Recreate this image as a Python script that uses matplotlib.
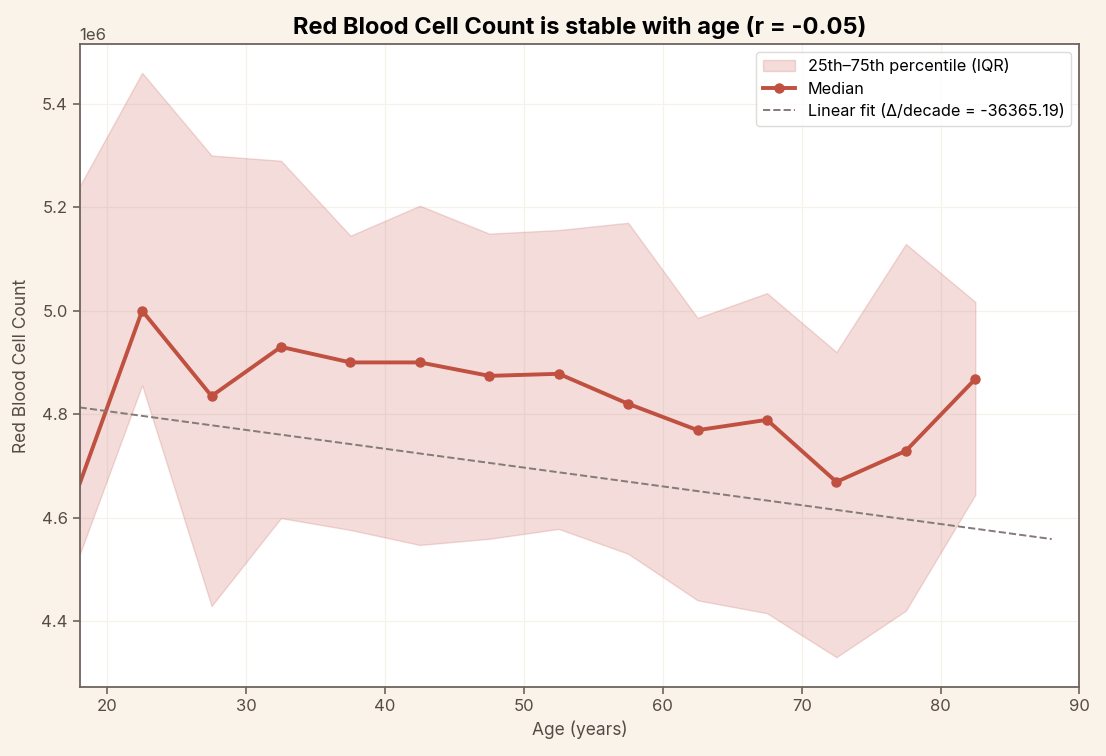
import numpy as np
import matplotlib
matplotlib.use("Agg")
import matplotlib.pyplot as plt

# age bin midpoints
age_mid = [17.5, 22.5, 27.5, 32.5, 37.5, 42.5, 47.5, 52.5, 57.5, 62.5, 67.5, 72.5, 77.5, 82.5]
# values in millions (scaled to 1e6 below)
rbc_median = [4.628, 5.00, 4.835, 4.93, 4.90, 4.90, 4.874, 4.878, 4.82, 4.769, 4.789, 4.669, 4.729, 4.868]
rbc_q75 = [5.216, 5.46, 5.30, 5.29, 5.145, 5.203, 5.149, 5.156, 5.17, 4.986, 5.034, 4.92, 5.129, 5.017]
rbc_q25 = [4.492, 4.856, 4.429, 4.599, 4.576, 4.547, 4.559, 4.578, 4.53, 4.44, 4.415, 4.33, 4.42, 4.644]

# linear fit on raw data
fit_age_range = [18, 88]
fit_slope_decade = -36365.19
fit_at_18 = 4.813e6
r_value = -0.05

plt.rcParams['font.family'] = ['Inter', 'DejaVu Sans']

bg = "#FAF3E9"
red = "#C0503F"
txt = "#564c47"

fig, ax = plt.subplots(figsize=(11.06, 7.56), dpi=100)
fig.patch.set_facecolor(bg)
ax.set_facecolor("white")

x = np.array(age_mid)
med = np.array(rbc_median) * 1e6
lo = np.array(rbc_q25) * 1e6
hi = np.array(rbc_q75) * 1e6

ax.fill_between(x, lo, hi, color="#C4534A", alpha=0.2, edgecolor="#C4534A", linewidth=1,
                label="25th\u201375th percentile (IQR)")
ax.plot(x, med, color=red, linewidth=2.8, marker="o", markersize=6.5, label="Median")

fx = np.array(fit_age_range, dtype=float)
fy = fit_at_18 + fit_slope_decade / 10 * (fx - fit_age_range[0])
ax.plot(fx, fy, linestyle="--", color="#857a77", linewidth=1.4,
        label=f"Linear fit (\u0394/decade = {fit_slope_decade:.2f})")

ax.set_xlim(18, 90)
ax.set_ylim(4.272e6, 5.516e6)
ax.set_yticks(np.arange(4.4e6, 5.41e6, 0.2e6))
ax.grid(True, color="#f6f1ea", linewidth=0.9)
ax.set_axisbelow(True)

for s in ax.spines.values():
    s.set_color("#6e625d")
    s.set_linewidth(1.3)
ax.tick_params(colors="#6e625d", labelcolor=txt, labelsize=12, length=5, width=1.2)
ax.yaxis.get_offset_text().set_color(txt)
ax.yaxis.get_offset_text().set_fontsize(12)

ax.set_xlabel("Age (years)", fontsize=12.5, color=txt, labelpad=5)
ax.set_ylabel("Red Blood Cell Count", fontsize=12.5, color=txt, labelpad=8)
ax.set_title(f"Red Blood Cell Count is stable with age (r = {r_value:.2f})",
             fontsize=17, fontweight="bold", color="black", pad=7)

leg = ax.legend(loc="upper right", fontsize=11.7, frameon=True, fancybox=True,
                labelspacing=0.45)
leg.get_frame().set_edgecolor("#d8d2cc")
leg.get_frame().set_linewidth(1)

fig.subplots_adjust(left=0.072, right=0.976, top=0.942, bottom=0.091)
fig.savefig("out.png", dpi=100, facecolor=bg)
